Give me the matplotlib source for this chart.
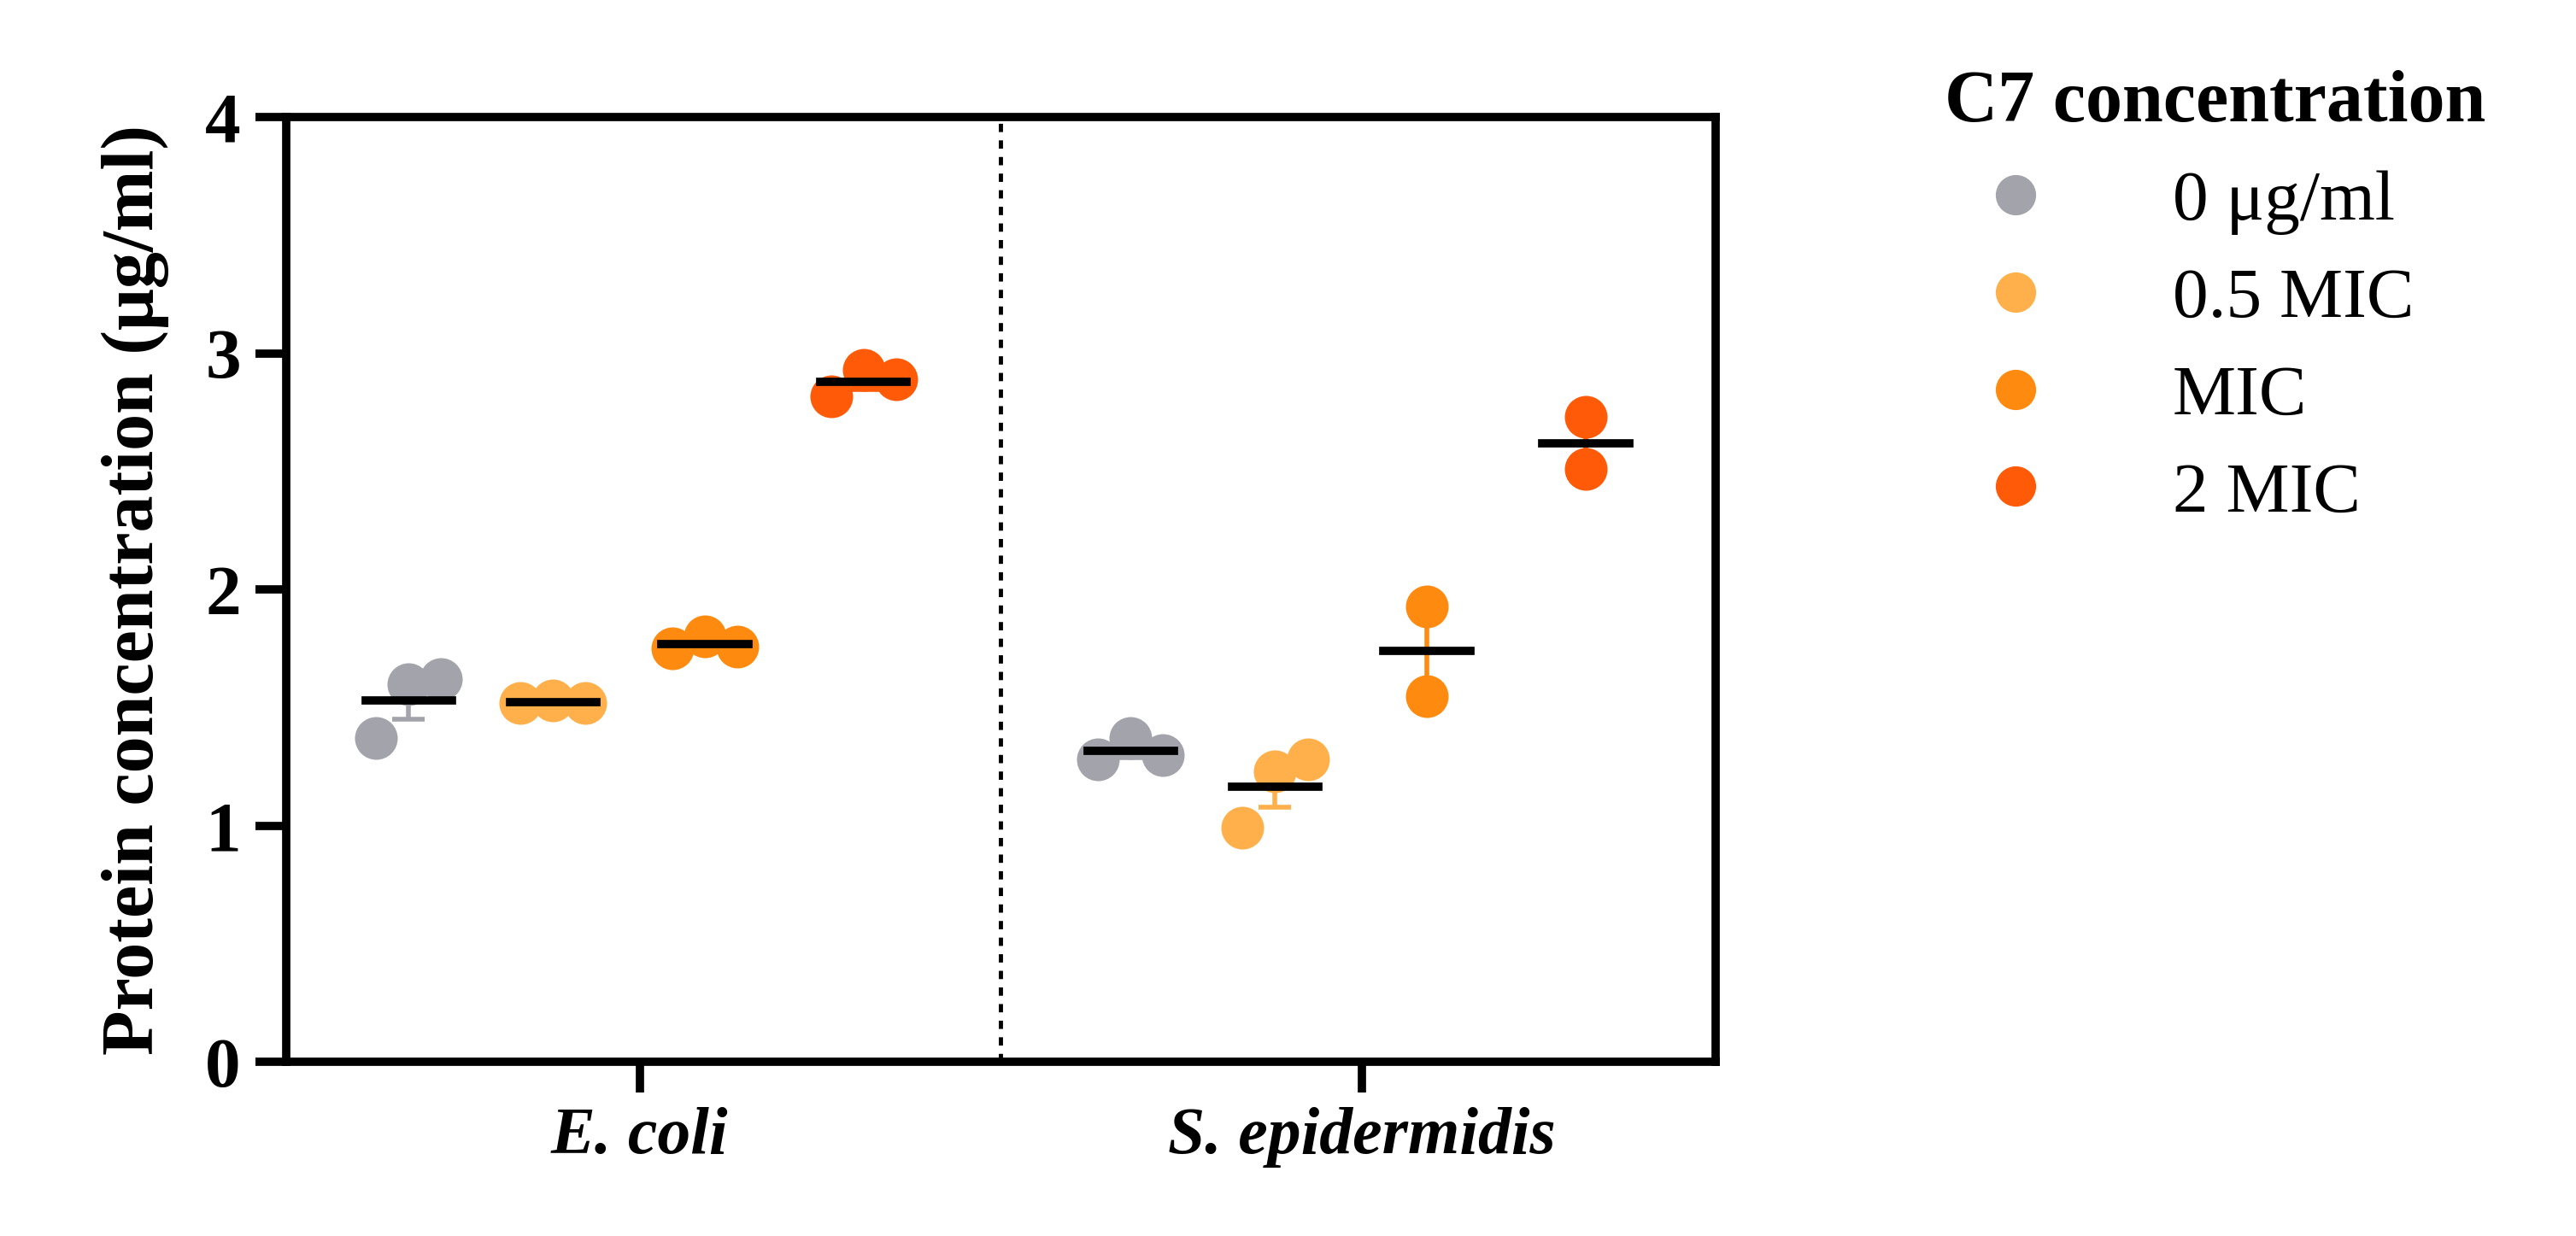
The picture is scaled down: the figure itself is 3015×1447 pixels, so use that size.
import matplotlib
matplotlib.use("Agg")
import matplotlib.pyplot as plt
import numpy as np
from matplotlib.lines import Line2D

plt.rcParams['font.family'] = ['Liberation Serif', 'DejaVu Serif']

categories = ["E. coli", "S. epidermidis"]
series = ["0 μg/ml", "0.5 MIC", "MIC", "2 MIC"]
colors = ["#A3A3AB", "#FFB04A", "#FF8A10", "#FF5A08"]
values = {
    "E. coli": [[1.37, 1.60, 1.62], [1.52, 1.53, 1.52], [1.75, 1.80, 1.76], [2.82, 2.93, 2.89]],
    "S. epidermidis": [[1.28, 1.37, 1.30], [0.99, 1.23, 1.28], [1.55, 1.93], [2.51, 2.73]],
}

fig = plt.figure(figsize=(30.15, 14.47), dpi=100)
ax = fig.add_axes([0.111, 0.141, 0.555, 0.764])
offsets = [-0.32, -0.12, 0.09, 0.31]
jit = 0.045
for ci, cat in enumerate(categories):
    for si, vals in enumerate(values[cat]):
        vals = np.array(vals)
        xc = ci + offsets[si]
        n = len(vals)
        if n == 3:
            xs = xc + np.array([-jit, 0, jit])
        else:
            xs = np.full(n, xc)
        ax.plot(xs, vals, 'o', ms=36, color=colors[si], zorder=3, mec='none')
        m = vals.mean(); sem = vals.std(ddof=1) / np.sqrt(n)
        ax.errorbar(xc, m, yerr=sem, color=colors[si], capsize=14, lw=4, capthick=4, zorder=2, fmt='none')
        ax.plot([xc - 0.06, xc + 0.06], [m, m], color='black', lw=7, zorder=4)

ax.axvline(0.5, color='black', ls=(0, (2, 2)), lw=3.5)
ax.set_xlim(-0.49, 1.49)
ax.set_ylim(0, 4)
ax.set_yticks([0, 1, 2, 3, 4])
ax.set_xticks([0, 1])
ax.set_xticklabels(categories, fontstyle='italic', fontweight='bold', fontsize=56)
for lab in ax.get_yticklabels():
    lab.set_fontweight('bold'); lab.set_fontsize(60)
for s in ax.spines.values():
    s.set_linewidth(7)
ax.tick_params(width=7, length=26, pad=12)
ax.set_ylabel("Protein concentration (μg/ml)", fontsize=62, fontweight='bold', labelpad=30)

handles = [Line2D([], [], marker='o', ls='none', ms=34, color=c, mec='none') for c in colors]
leg = fig.legend(handles, series, loc='upper left', bbox_to_anchor=(0.73, 0.995), frameon=False,
                 fontsize=60, title="C7 concentration", labelspacing=0.45, handletextpad=1.2,
                 title_fontproperties={'weight': 'bold', 'size': 62})
leg._legend_box.align = "left"
fig.savefig("out.png", dpi=100)
